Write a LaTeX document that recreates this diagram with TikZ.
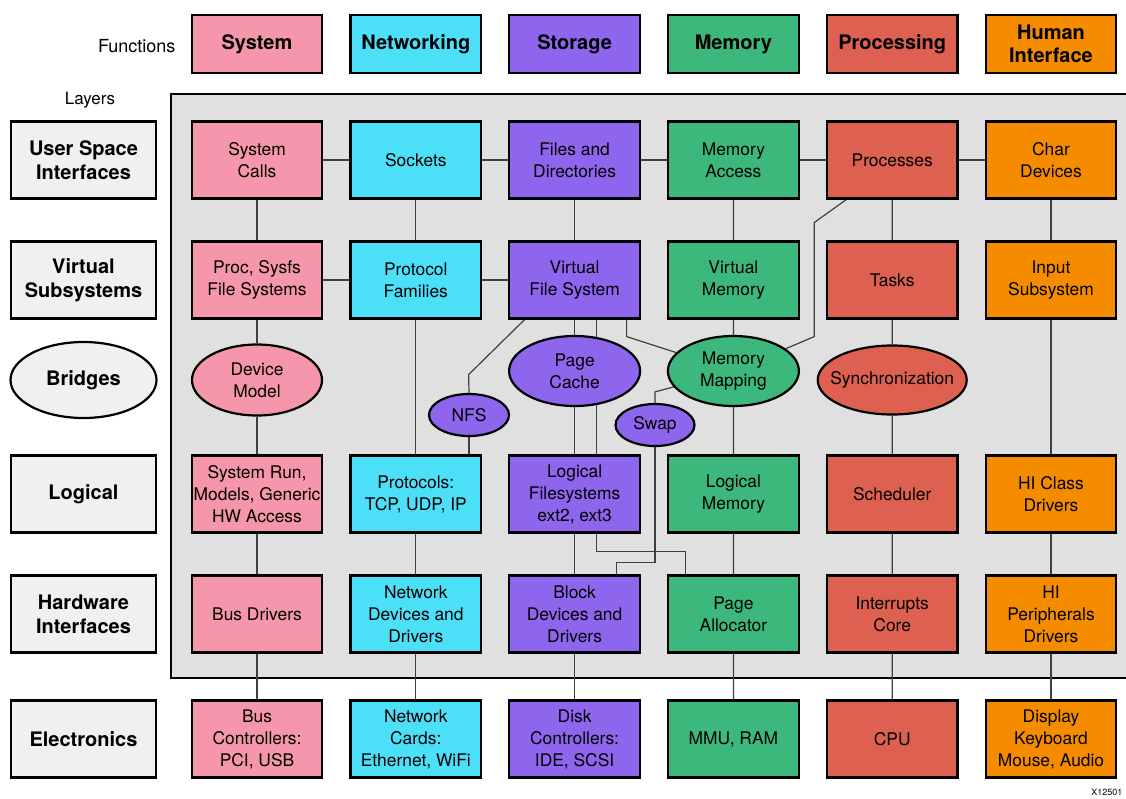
\documentclass[tikz,border=0pt]{standalone}
\usepackage{fontspec}
\setmainfont{TeX Gyre Heros}
\usetikzlibrary{shapes.geometric}

\definecolor{sysPink}{HTML}{F596AA}
\definecolor{netCyan}{HTML}{4CE0F8}
\definecolor{stoPurple}{HTML}{8E66EE}
\definecolor{memGreen}{HTML}{3CB87C}
\definecolor{procRed}{HTML}{DE6050}
\definecolor{hiOrange}{HTML}{F58C00}
\definecolor{layerGray}{HTML}{F0F0F0}
\definecolor{backGray}{HTML}{E0E0E0}

\pgfdeclarelayer{back}
\pgfdeclarelayer{wires}
\pgfsetlayers{back,wires,main}

\begin{document}
\begin{tikzpicture}[x=1pt, y=-1pt, node distance=158.8pt,
	blk/.style={draw=black, line width=2.2pt, minimum width=130.5pt, minimum height=77pt, inner sep=0pt, align=center, font=\fontsize{17.4}{22}\selectfont},
	fun/.style={blk, minimum height=58pt, font=\bfseries\fontsize{20}{23}\selectfont},
	lay/.style={blk, fill=layerGray, minimum width=145pt, font=\bfseries\fontsize{20}{24}\selectfont},
	brg/.style={blk, ellipse, minimum width=131pt, minimum height=70pt},
	link/.style={draw=black!75, line width=1.2pt}]
	\useasboundingbox (0,0) rectangle (1126,798);
	
	%functions
	\node (fLabel)[anchor=east, font=\fontsize{18}{22}\selectfont] at (179,46) {Functions};
	\node (fSys)[fun, fill=sysPink] at (257,44)    {System};
	\node (fNet)[fun, fill=netCyan, right of=fSys]     {Networking};
	\node (fSto)[fun, fill=stoPurple, right of=fNet]   {Storage};
	\node (fMem)[fun, fill=memGreen, right of=fSto]    {Memory};
	\node (fProc)[fun, fill=procRed, right of=fMem]    {Processing};
	\node (fHi)[fun, fill=hiOrange, right of=fProc]    {Human\\Interface};
	
	%layers
	\node (lLabel)[font=\fontsize{17}{20}\selectfont] at (90,100) {Layers};
	\node (lUser)[lay] at (83.5,160)   {User Space\\Interfaces};
	\node (lVirt)[lay] at (83.5,280)   {Virtual\\Subsystems};
	\node (lBridge)[lay, ellipse, minimum width=146pt, minimum height=76pt] at (83.5,380) {Bridges};
	\node (lLog)[lay] at (83.5,494)    {Logical};
	\node (lHw)[lay] at (83.5,614)     {Hardware\\Interfaces};
	\node (lElec)[lay] at (83.5,739)   {Electronics};
	
	%user space interfaces
	\node (sysCalls)[blk, fill=sysPink] at (257,160)           {System\\Calls};
	\node (sockets)[blk, fill=netCyan, right of=sysCalls]       {Sockets};
	\node (files)[blk, fill=stoPurple, right of=sockets]        {Files and\\Directories};
	\node (memAccess)[blk, fill=memGreen, right of=files]       {Memory\\Access};
	\node (processes)[blk, fill=procRed, right of=memAccess]    {Processes};
	\node (charDev)[blk, fill=hiOrange, right of=processes]     {Char\\Devices};
	
	%virtual subsystems
	\node (procFs)[blk, fill=sysPink] at (257,280)             {Proc, Sysfs\\File Systems};
	\node (protoFam)[blk, fill=netCyan, right of=procFs]        {Protocol\\Families};
	\node (vfs)[blk, fill=stoPurple, right of=protoFam]         {Virtual\\File System};
	\node (virtMem)[blk, fill=memGreen, right of=vfs]           {Virtual\\Memory};
	\node (tasks)[blk, fill=procRed, right of=virtMem]           {Tasks};
	\node (inputSub)[blk, fill=hiOrange, right of=tasks]        {Input\\Subsystem};
	
	%bridges
	\node (devModel)[brg, fill=sysPink, minimum width=130pt, minimum height=71pt] at (257,380) {Device\\Model};
	\node (nfs)[brg, fill=stoPurple, minimum width=80pt, minimum height=42pt] at (469,415)      {NFS};
	\node (pageCache)[brg, fill=stoPurple] at (574.6,371)                                    {Page\\Cache};
	\node (swap)[brg, fill=stoPurple, minimum width=79pt, minimum height=42pt] at (655,425)     {Swap};
	\node (memMap)[brg, fill=memGreen] at (733.4,371)                                        {Memory\\Mapping};
	\node (sync)[brg, fill=procRed, minimum width=149pt, minimum height=69pt] at (892.2,380)   {\makebox[0pt]{Synchronization}};
	
	%logical
	\node (sysRun)[blk, fill=sysPink] at (257,494)             {System Run,\\Models, Generic\\HW Access};
	\node (protocols)[blk, fill=netCyan, right of=sysRun]       {Protocols:\\TCP, UDP, IP};
	\node (lfs)[blk, fill=stoPurple, right of=protocols]        {Logical\\Filesystems\\ext2, ext3};
	\node (logMem)[blk, fill=memGreen, right of=lfs]            {Logical\\Memory};
	\node (sched)[blk, fill=procRed, right of=logMem]           {Scheduler};
	\node (hiClass)[blk, fill=hiOrange, right of=sched]         {HI Class\\Drivers};
	
	%hardware interfaces
	\node (busDrv)[blk, fill=sysPink] at (257,614)             {Bus Drivers};
	\node (netDev)[blk, fill=netCyan, right of=busDrv]          {Network\\Devices and\\Drivers};
	\node (blockDev)[blk, fill=stoPurple, right of=netDev]      {Block\\Devices and\\Drivers};
	\node (pageAlloc)[blk, fill=memGreen, right of=blockDev]    {Page\\Allocator};
	\node (irq)[blk, fill=procRed, right of=pageAlloc]          {Interrupts\\Core};
	\node (hiPeri)[blk, fill=hiOrange, right of=irq]            {HI\\Peripherals\\Drivers};
	
	%electronics
	\node (busCtl)[blk, fill=sysPink] at (257,739)             {Bus\\Controllers:\\PCI, USB};
	\node (netCards)[blk, fill=netCyan, right of=busCtl]        {Network\\Cards:\\Ethernet, WiFi};
	\node (diskCtl)[blk, fill=stoPurple, right of=netCards]     {Disk\\Controllers:\\IDE, SCSI};
	\node (mmu)[blk, fill=memGreen, right of=diskCtl]           {MMU, RAM};
	\node (cpu)[blk, fill=procRed, right of=mmu]                {CPU};
	\node (display)[blk, fill=hiOrange, right of=cpu]           {Display\\Keyboard\\Mouse, Audio};
	
	\node (xref)[anchor=south east, font=\fontsize{9}{10}\selectfont] at (1126,799) {X12501};
	
	%kernel area
	\begin{pgfonlayer}{back}
		\draw[fill=backGray, line width=2pt] (171,94) rectangle (1140,678);
	\end{pgfonlayer}
	
	%links
	\begin{pgfonlayer}{wires}
		\draw[link] (sysCalls) -- (sockets) -- (files) -- (memAccess) -- (processes) -- (charDev);
		\draw[link] (procFs) -- (protoFam) -- (vfs);
		
		\draw[link] (sysCalls) -- (procFs) -- (devModel) -- (sysRun) -- (busDrv) -- (busCtl);
		\draw[link] (sockets) -- (protoFam) -- (protocols) -- (netDev) -- (netCards);
		\draw[link] (files) -- (vfs) -- (pageCache) -- (lfs) -- (blockDev) -- (diskCtl);
		\draw[link] (memAccess) -- (virtMem) -- (memMap) -- (logMem) -- (pageAlloc) -- (mmu);
		\draw[link] (processes) -- (tasks) -- (sync) -- (sched) -- (irq) -- (cpu);
		\draw[link] (charDev) -- (inputSub) -- (hiClass) -- (hiPeri) -- (display);
		
		\draw[link] ([xshift=22pt]vfs.south) -- ([xshift=22pt]lfs.north);
		\draw[link] ([xshift=-50pt]vfs.south) -- ++(-56,55) -- (nfs.north);
		\draw[link] (nfs.south) -- (nfs.south |- protocols.north);
		\draw[link] ([xshift=52pt]vfs.south) -- ++(0,17) -- (memMap);
		\draw[link] (swap.north) -- ++(0,-11) -- (memMap);
		\draw[link] ([xshift=-46pt]processes.south) -- ++(-32,23) -- ++(0,114) -- (memMap);
		\draw[link] (swap.south) -- ++(0,115) -| ([xshift=42pt]blockDev.north);
		\draw[link] ([xshift=22pt]lfs.south) -- ++(0,18) -| ([xshift=-48pt]pageAlloc.north);
	\end{pgfonlayer}
\end{tikzpicture}
\end{document}
